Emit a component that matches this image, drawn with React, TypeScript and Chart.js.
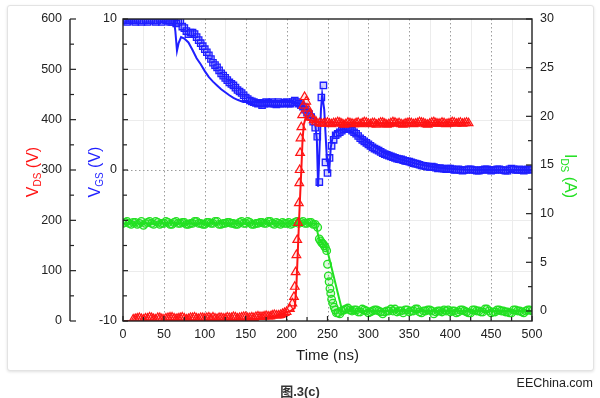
import React, { useEffect, useRef } from "react";
import { Chart, registerables } from "chart.js";
Chart.register(...registerables);

const FONT = "'Liberation Sans', Arial, Helvetica, sans-serif";
const BLUE = "#1f1fff";
const RED = "#ff1414";
const GREEN = "#22e022";
const INK = "#222222";

// ---- tick values ----
const timeTicks = [0, 50, 100, 150, 200, 250, 300, 350, 400, 450, 500];
const timeMinor = [25, 75, 125, 175, 225, 275, 325, 375, 425, 475];
const vdsTicks = [0, 100, 200, 300, 400, 500, 600];
const vdsMinor = [50, 150, 250, 350, 450, 550];
const vgsTicks = [-10, 0, 10];
const idsTicks = [0, 5, 10, 15, 20, 25, 30];
const idsMinor = [2.5, 7.5, 12.5, 17.5, 22.5, 27.5];

// ---- V_GS measured (squares) ----
const tVgsMeas = [
  0, 2.5, 5, 7.5, 10, 12.5, 15, 17.5, 20, 22.5, 25, 27.5, 30, 32.5, 35, 37.5, 40, 42.5, 45, 47.5,
  50, 52.5, 55, 57.5, 60, 62.5, 65, 67.5, 70, 72.5, 75, 77.5, 80, 82.5, 85, 87.5, 90, 92.5, 95, 97.5,
  100, 102.5, 105, 107.5, 110, 112.5, 115, 117.5, 120, 122.5, 125, 127.5, 130, 132.5, 135, 137.5, 140, 142.5, 145, 147.5,
  150, 152.5, 155, 157.5, 160, 162.5, 165, 167.5, 170, 172.5, 175, 177.5, 180, 182.5, 185, 187.5, 190, 192.5, 195, 197.5,
  200, 202.5, 205, 207.5, 210, 212.5, 215, 217.5, 220, 222.5, 225, 227.5, 230, 232.5, 235, 237.5, 240, 242.5, 245, 247.5,
  250, 252.5, 255, 257.5, 260, 262.5, 265, 267.5, 270, 272.5, 275, 277.5, 280, 282.5, 285, 287.5, 290, 292.5, 295, 297.5,
  300, 302.5, 305, 307.5, 310, 312.5, 315, 317.5, 320, 322.5, 325, 327.5, 330, 332.5, 335, 337.5, 340, 342.5, 345, 347.5,
  350, 352.5, 355, 357.5, 360, 362.5, 365, 367.5, 370, 372.5, 375, 377.5, 380, 382.5, 385, 387.5, 390, 392.5, 395, 397.5,
  400, 402.5, 405, 407.5, 410, 412.5, 415, 417.5, 420, 422.5, 425, 427.5, 430, 432.5, 435, 437.5, 440, 442.5, 445, 447.5,
  450, 452.5, 455, 457.5, 460, 462.5, 465, 467.5, 470, 472.5, 475, 477.5, 480, 482.5, 485, 487.5, 490, 492.5, 495, 497.5,
  500,
];
const vgsMeas = [
  9.9, 10, 9.8, 9.9, 10, 9.9, 9.8, 10, 9.9, 9.8, 9.9, 10, 9.8, 9.9, 10, 9.9, 9.8, 9.9, 10, 9.8,
  10, 9.9, 9.9, 9.8, 9.8, 9.9, 9.7, 9.8, 9.9, 9.5, 9.4, 9.2, 9.0, 9.1, 9.1, 9.0, 8.8, 8.6, 8.4, 8.2,
  8.0, 7.8, 7.6, 7.35, 7.1, 6.95, 6.8, 6.6, 6.4, 6.25, 6.1, 5.95, 5.8, 5.7, 5.6, 5.45, 5.3, 5.2, 5.1, 4.95,
  4.8, 4.7, 4.6, 4.55, 4.5, 4.45, 4.4, 4.45, 4.3, 4.4, 4.5, 4.45, 4.4, 4.5, 4.4, 4.35, 4.5, 4.4, 4.4, 4.45,
  4.5, 4.4, 4.4, 4.5, 4.6, 4.5, 4.4, 4.3, 4.2, 4.0, 3.8, 3.7, 3.5, 3.2, 2.8, 2.2, -0.8, 4.8, 5.6, 0.5,
  -0.2, 0.8, 1.6, 2.0, 2.3, 2.4, 2.5, 2.6, 2.7, 2.75, 2.8, 2.7, 2.6, 2.5, 2.4, 2.25, 2.1, 2.0, 1.9, 1.8,
  1.7, 1.6, 1.5, 1.42, 1.35, 1.28, 1.2, 1.12, 1.05, 1.0, 0.95, 0.9, 0.85, 0.8, 0.75, 0.72, 0.7, 0.65, 0.6, 0.58,
  0.55, 0.5, 0.45, 0.42, 0.4, 0.35, 0.3, 0.28, 0.25, 0.22, 0.2, 0.22, 0.2, 0.15, 0.1, 0.12, 0.1, 0.08, 0.05, 0.1,
  0.1, 0.05, 0, 0.02, 0.05, 0, -0.05, 0, 0, 0.05, 0.05, 0, 0, -0.05, -0.05, 0, 0, 0.05, 0.05, 0,
  -0.05, 0, 0, 0.05, 0.05, 0, 0, -0.05, -0.05, 0.05, 0.1, 0.05, 0, 0, 0.05, 0, -0.05, 0, 0.05, 0.05,
  0,
];

// ---- V_GS simulated (line) ----
const tVgsSim = [
  0, 62, 64, 66, 68, 71, 75, 80, 85, 90,
  95, 100, 105, 110, 115, 120, 125, 130, 135, 140,
  147, 210, 220, 228, 234, 237, 238.5, 240, 242, 243.5,
  246, 249, 252, 254, 257, 262, 270, 280, 300, 320,
  340, 360, 380, 400, 420, 500,
];
const vgsSim = [
  10, 10, 9.2, 7.9, 8.4, 8.8, 8.7, 8.45, 7.95, 7.4,
  7.0, 6.55, 6.15, 5.85, 5.6, 5.35, 5.15, 4.95, 4.78, 4.65,
  4.5, 4.5, 4.3, 3.9, 3.6, 2.0, -1.1, 1.0, 4.0, 5.0,
  4.0, 1.0, -0.2, 1.5, 2.4, 2.6, 2.7, 2.5, 1.8, 1.1,
  0.7, 0.4, 0.2, 0.08, 0.02, 0,
];

// ---- V_DS measured (triangles) ----
const tVdsMeas = [
  12.5, 15, 17.5, 20, 22.5, 25, 27.5, 30, 32.5, 35, 37.5, 40, 42.5, 45, 47.5, 50, 52.5, 55, 57.5,
  60, 62.5, 65, 67.5, 70, 72.5, 75, 77.5, 80, 82.5, 85, 87.5, 90, 92.5, 95, 97.5, 100, 102.5, 105, 107.5,
  110, 112.5, 115, 117.5, 120, 122.5, 125, 127.5, 130, 132.5, 135, 137.5, 140, 142.5, 145, 147.5, 150, 152.5, 155, 157.5,
  160, 162.5, 165, 167.5, 170, 172.5, 175, 177.5, 180, 182.5, 185, 187.5, 190, 192.5, 195, 197.5,
  200, 204, 207, 209, 210, 211, 212, 213, 214, 215,
  215.5, 216, 216.5, 217, 218, 219, 220.5, 222, 224, 226,
  228, 230, 233, 236, 240,
  242.5, 245, 247.5, 250, 252.5, 255, 257.5, 260, 262.5, 265, 267.5, 270, 272.5, 275, 277.5, 280, 282.5, 285, 287.5, 290,
  292.5, 295, 297.5, 300, 302.5, 305, 307.5, 310, 312.5, 315, 317.5, 320, 322.5, 325, 327.5, 330, 332.5, 335, 337.5, 340,
  342.5, 345, 347.5, 350, 352.5, 355, 357.5, 360, 362.5, 365, 367.5, 370, 372.5, 375, 377.5, 380, 382.5, 385, 387.5, 390,
  392.5, 395, 397.5, 400, 402.5, 405, 407.5, 410, 412.5, 415, 417.5, 420, 422.5,
];
const vdsMeas = [
  3, 4, 5, 6, 4, 3, 5, 5, 7, 6, 4, 3, 6, 6, 4, 3, 5, 6, 7,
  7, 5, 4, 5, 6, 7, 5, 3, 4, 6, 6, 7, 5, 4, 6, 6, 5, 6, 7, 5,
  7, 5, 4, 6, 6, 5, 5, 7, 6, 6, 8, 7, 5, 6, 7, 8, 8, 6, 6, 7,
  6, 8, 9, 8, 8, 9, 10, 9, 9, 11, 12, 11, 11, 12, 14, 16,
  18, 24, 35, 48, 68, 97, 131, 161, 195, 234,
  274, 300, 334, 363, 385, 409, 428, 445, 436, 422,
  412, 404, 399, 396, 393,
  392, 392, 393, 394, 392, 391, 393, 393, 395, 394, 392, 390, 391, 394, 393, 392, 391, 393, 394, 391,
  393, 395, 394, 392, 391, 393, 393, 390, 392, 394, 394, 392, 390, 391, 393, 395, 394, 392, 393, 391,
  390, 392, 393, 394, 393, 391, 392, 393, 395, 394, 393, 391, 390, 392, 394, 395, 393, 392, 392, 394,
  393, 391, 392, 393, 395, 394, 392, 393, 394, 392, 393, 394, 393,
];

// ---- V_DS simulated (line) ----
const tVdsSim = [0, 100, 150, 170, 185, 195, 205, 210, 212, 214, 216, 218, 219.5, 221, 223, 230, 240, 300, 360, 424];
const vdsSim = [0, 1, 3, 5, 9, 14, 20, 26, 70, 150, 230, 300, 360, 390, 402, 398, 395, 393, 394, 394];

// ---- I_DS measured (circles) ----
const tIdsMeas = [
  0, 2.5, 5, 7.5, 10, 12.5, 15, 17.5, 20, 22.5, 25, 27.5, 30, 32.5, 35, 37.5, 40, 42.5, 45, 47.5,
  50, 52.5, 55, 57.5, 60, 62.5, 65, 67.5, 70, 72.5, 75, 77.5, 80, 82.5, 85, 87.5, 90, 92.5, 95, 97.5,
  100, 102.5, 105, 107.5, 110, 112.5, 115, 117.5, 120, 122.5, 125, 127.5, 130, 132.5, 135, 137.5, 140, 142.5, 145, 147.5,
  150, 152.5, 155, 157.5, 160, 162.5, 165, 167.5, 170, 172.5, 175, 177.5, 180, 182.5, 185, 187.5, 190, 192.5, 195, 197.5,
  200, 202.5, 205, 207.5, 210, 212.5, 215, 217.5, 220, 222.5, 225, 227.5, 230, 232.5, 235,
  238, 240, 241.5, 243, 244.5, 246, 247.5, 249, 250, 251, 252, 253, 254, 255, 256.5, 258, 259.5, 261, 263, 265,
  267.5, 270, 272.5, 275, 277.5,
  280, 282.5, 285, 287.5, 290, 292.5, 295, 297.5, 300, 302.5, 305, 307.5, 310, 312.5, 315, 317.5, 320, 322.5, 325, 327.5,
  330, 332.5, 335, 337.5, 340, 342.5, 345, 347.5, 350, 352.5, 355, 357.5, 360, 362.5, 365, 367.5, 370, 372.5, 375, 377.5,
  380, 382.5, 385, 387.5, 390, 392.5, 395, 397.5, 400, 402.5, 405, 407.5, 410, 412.5, 415, 417.5, 420, 422.5, 425, 427.5,
  430, 432.5, 435, 437.5, 440, 442.5, 445, 447.5, 450, 452.5, 455, 457.5, 460, 462.5, 465, 467.5, 470, 472.5, 475, 477.5,
  480, 482.5, 485, 487.5, 490, 492.5, 495, 497.5, 500,
];
const idsMeas = [
  9.0, 9.1, 9.2, 9.0, 8.9, 9.1, 9.1, 8.9, 9.0, 9.2, 8.8, 9.0, 9.1, 9.2, 9.0, 8.9, 9.2, 9.1, 8.9, 9.0,
  9.0, 9.2, 9.1, 8.9, 8.9, 9.1, 9.2, 9.0, 9.0, 9.1, 9.1, 8.9, 8.9, 9.0, 9.0, 9.2, 9.2, 9.0, 9.0, 8.9,
  8.9, 9.1, 9.1, 9.0, 9.0, 9.2, 9.2, 8.9, 8.9, 9.0, 9.0, 9.1, 9.1, 9.0, 9.0, 8.9, 8.9, 9.1, 9.2, 9.0,
  9.0, 9.2, 9.1, 8.9, 8.9, 9.0, 9.0, 9.1, 9.1, 9.0, 9.0, 9.2, 9.2, 9.0, 8.9, 9.1, 9.0, 8.9, 9.1, 9.0,
  9.0, 9.1, 8.9, 9.0, 9.1, 9.2, 9.0, 9.1, 9.2, 9.0, 9.0, 9.1, 9.1, 8.9, 8.9,
  8.6, 7.4, 7.2, 7.0, 6.9, 6.7, 6.5, 6.2, 4.8, 3.6, 3.0, 2.3, 1.8, 1.2, 0.8, 0.4, 0.1, -0.2, -0.2, -0.3,
  0.0, 0.1, 0.2, 0.3, 0.1,
  0.0, 0.1, 0.1, -0.1, -0.1, 0.2, 0.1, 0.0, -0.2, -0.1, 0.0, 0.1, 0.1, 0.0, -0.1, -0.3, -0.1, 0.0, 0.0, 0.2,
  0.0, 0.2, -0.1, 0.0, 0.0, -0.2, 0.1, 0.1, -0.1, 0.0, 0.0, 0.2, 0.2, -0.1, -0.2, 0.0, 0.0, 0.1, 0.1, 0.0,
  -0.3, -0.1, 0.0, 0.0, -0.1, 0.1, 0.0, 0.1, -0.1, 0.0, 0.0, -0.2, -0.1, 0.1, 0.1, 0.0, -0.1, -0.2, -0.2, 0.1,
  0.1, 0.0, 0.0, -0.1, -0.1, 0.2, 0.2, 0.0, -0.2, -0.1, -0.1, 0.1, 0.1, 0.0, 0.0, -0.1, -0.1, -0.2, -0.2, 0.1,
  0.1, 0.0, 0.0, -0.1, -0.2, 0.0, 0.1, 0.1, 0.0,
];

// ---- I_DS simulated (line) ----
const tIdsSim = [0, 236, 238, 240, 248, 251, 268, 272, 280, 500];
const idsSim = [9.0, 9.0, 8.0, 7.3, 6.6, 5.8, 0.0, -0.1, 0.0, 0.0];

const zip = (xs: number[], ys: number[]) => xs.map((x, i) => ({ x, y: ys[i] }));

function seg(ctx: CanvasRenderingContext2D, x1: number, y1: number, x2: number, y2: number) {
  ctx.beginPath();
  ctx.moveTo(x1, y1);
  ctx.lineTo(x2, y2);
  ctx.stroke();
}

type Part = { text: string; size: number; dy: number };
function drawTitle(ctx: CanvasRenderingContext2D, cx: number, cy: number, rot: number, parts: Part[], color: string) {
  ctx.save();
  ctx.translate(cx, cy);
  ctx.rotate(rot);
  ctx.fillStyle = color;
  ctx.textBaseline = "alphabetic";
  ctx.textAlign = "left";
  let total = 0;
  const widths = parts.map((p) => {
    ctx.font = `${p.size}px ${FONT}`;
    const w = ctx.measureText(p.text).width;
    total += w;
    return w;
  });
  let x0 = -total / 2;
  parts.forEach((p, i) => {
    ctx.font = `${p.size}px ${FONT}`;
    ctx.fillText(p.text, x0, p.dy);
    x0 += widths[i];
  });
  ctx.restore();
}

const decor = {
  id: "decor",
  beforeDatasetsDraw(chart: any) {
    const { ctx, chartArea: a, scales } = chart;
    const x = scales.x;
    const yv = scales.yVds;
    const yg = scales.yVgs;
    ctx.save();
    ctx.lineWidth = 1;
    ctx.strokeStyle = "#ececec";
    for (const t of timeMinor) {
      const px = Math.round(x.getPixelForValue(t)) + 0.5;
      seg(ctx, px, a.top, px, a.bottom);
    }
    for (const v of vdsTicks) {
      if (v === 0 || v === 300 || v === 600) continue;
      const py = Math.round(yv.getPixelForValue(v)) + 0.5;
      seg(ctx, a.left, py, a.right, py);
    }
    ctx.strokeStyle = "#9c9c9c";
    ctx.setLineDash([1.5, 2.5]);
    for (const t of timeTicks) {
      if (t === 0 || t === 500) continue;
      const px = Math.round(x.getPixelForValue(t)) + 0.5;
      seg(ctx, px, a.top, px, a.bottom);
    }
    const p0 = Math.round(yg.getPixelForValue(0)) + 0.5;
    seg(ctx, a.left, p0, a.right, p0);
    ctx.restore();
  },
  afterDatasetsDraw(chart: any) {
    const { ctx, chartArea: a, scales } = chart;
    const x = scales.x;
    const yv = scales.yVds;
    const yi = scales.yIds;
    ctx.save();
    ctx.strokeStyle = INK;
    ctx.lineWidth = 1.4;
    ctx.strokeRect(a.left, a.top, a.right - a.left, a.bottom - a.top);
    const ax = yv.right;
    seg(ctx, ax, a.top, ax, a.bottom);
    ctx.lineWidth = 1.2;
    for (const v of vdsTicks) {
      const py = yv.getPixelForValue(v);
      seg(ctx, ax, py, ax + 6, py);
      seg(ctx, a.left, py, a.left + 5, py);
    }
    for (const v of vdsMinor) {
      const py = yv.getPixelForValue(v);
      seg(ctx, ax, py, ax + 4, py);
      seg(ctx, a.left, py, a.left + 4, py);
    }
    for (const v of idsTicks) {
      const py = yi.getPixelForValue(v);
      seg(ctx, a.right - 6, py, a.right, py);
    }
    for (const v of idsMinor) {
      const py = yi.getPixelForValue(v);
      seg(ctx, a.right - 4, py, a.right, py);
    }
    for (const t of timeTicks) {
      const px = x.getPixelForValue(t);
      seg(ctx, px, a.bottom, px, a.bottom - 5);
    }
    for (const t of timeMinor) {
      const px = x.getPixelForValue(t);
      seg(ctx, px, a.bottom, px, a.bottom - 4);
    }
    ctx.restore();

    const midY = (a.top + a.bottom) / 2;
    drawTitle(ctx, yv.left + 12, midY + 2, -Math.PI / 2, [
      { text: "V", size: 16, dy: 5.5 },
      { text: "DS", size: 10, dy: 9 },
      { text: " (V)", size: 16, dy: 5.5 },
    ], RED);
    drawTitle(ctx, scales.yVgs.left + 24, midY + 2, -Math.PI / 2, [
      { text: "V", size: 16, dy: 5.5 },
      { text: "GS", size: 10, dy: 9 },
      { text: " (V)", size: 16, dy: 5.5 },
    ], BLUE);
    drawTitle(ctx, yi.left + 38, midY + 6, Math.PI / 2, [
      { text: "I", size: 16, dy: 5.5 },
      { text: "DS", size: 10, dy: 9 },
      { text: " (A)", size: 16, dy: 5.5 },
    ], GREEN);
    ctx.save();
    ctx.fillStyle = INK;
    ctx.font = `15px ${FONT}`;
    ctx.textAlign = "center";
    ctx.textBaseline = "middle";
    ctx.fillText("Time (ns)", (a.left + a.right) / 2, a.bottom + 35);
    ctx.restore();
  },
};

const fixTicks = (vals: number[]) => (scale: any) => {
  scale.ticks = vals.map((v) => ({ value: v }));
};

export default function App() {
  const ref = useRef<HTMLCanvasElement>(null);
  useEffect(() => {
    Chart.defaults.font.family = FONT;
    const tickFont = { size: 12.5, family: FONT };
    const noGrid = { display: false, drawTicks: false };
    const chart = new Chart(ref.current as HTMLCanvasElement, {
      type: "scatter",
      data: {
        datasets: [
          {
            label: "VDS meas",
            data: zip(tVdsMeas, vdsMeas),
            yAxisID: "yVds",
            pointStyle: "triangle",
            pointRadius: 5,
            borderColor: RED,
            backgroundColor: "rgba(255,20,20,0.1)",
            borderWidth: 1.2,
            showLine: false,
            order: 0,
          },
          {
            label: "VDS sim",
            data: zip(tVdsSim, vdsSim),
            yAxisID: "yVds",
            showLine: true,
            borderColor: RED,
            borderWidth: 2,
            pointRadius: 0,
            order: 1,
          },
          {
            label: "VGS sim",
            data: zip(tVgsSim, vgsSim),
            yAxisID: "yVgs",
            showLine: true,
            borderColor: BLUE,
            borderWidth: 2,
            pointRadius: 0,
            order: 2,
          },
          {
            label: "VGS meas",
            data: zip(tVgsMeas, vgsMeas),
            yAxisID: "yVgs",
            pointStyle: "rect",
            pointRadius: 4.5,
            borderColor: BLUE,
            backgroundColor: "rgba(31,31,255,0.2)",
            borderWidth: 1.3,
            showLine: false,
            order: 3,
          },
          {
            label: "IDS sim",
            data: zip(tIdsSim, idsSim),
            yAxisID: "yIds",
            showLine: true,
            borderColor: GREEN,
            borderWidth: 2,
            pointRadius: 0,
            order: 4,
          },
          {
            label: "IDS meas",
            data: zip(tIdsMeas, idsMeas),
            yAxisID: "yIds",
            pointStyle: "circle",
            pointRadius: 3.8,
            borderColor: GREEN,
            backgroundColor: "rgba(34,224,34,0.15)",
            borderWidth: 1.3,
            showLine: false,
            order: 5,
          },
        ],
      },
      options: {
        responsive: false,
        maintainAspectRatio: false,
        animation: false,
        events: [],
        layout: { padding: { left: 20, right: 23, top: 19, bottom: 32 } },
        plugins: { legend: { display: false }, tooltip: { enabled: false } },
        scales: {
          x: {
            type: "linear",
            position: "bottom",
            min: 0,
            max: 500,
            afterBuildTicks: fixTicks(timeTicks),
            afterFit: (s: any) => { s.height = 45; },
            ticks: { font: tickFont, color: INK, padding: 6, maxRotation: 0 },
            grid: noGrid,
            border: { display: false },
          },
          yVds: {
            type: "linear",
            position: "left",
            weight: 2,
            min: 0,
            max: 600,
            afterBuildTicks: fixTicks(vdsTicks),
            afterFit: (s: any) => { s.width = 50; },
            ticks: { font: tickFont, color: INK, padding: 8 },
            grid: noGrid,
            border: { display: false },
          },
          yVgs: {
            type: "linear",
            position: "left",
            weight: 1,
            min: -10,
            max: 10,
            afterBuildTicks: fixTicks(vgsTicks),
            afterFit: (s: any) => { s.width = 53; },
            ticks: { font: tickFont, color: INK, padding: 6 },
            grid: noGrid,
            border: { display: false },
          },
          yIds: {
            type: "linear",
            position: "right",
            min: -1.03,
            max: 30,
            afterBuildTicks: fixTicks(idsTicks),
            afterFit: (s: any) => { s.width = 45; },
            ticks: { font: tickFont, color: INK, padding: 8 },
            grid: noGrid,
            border: { display: false },
          },
        },
      },
      plugins: [decor],
    } as any);
    return () => chart.destroy();
  }, []);

  return (
    <div style={{ position: "absolute", left: 0, top: 0, width: 600, height: 398, background: "#ffffff", overflow: "hidden" }}>
      <div
        style={{
          position: "absolute",
          left: 7,
          top: 5,
          width: 585,
          height: 364,
          border: "1px solid #e3e3e3",
          borderRadius: 3,
          boxShadow: "0 1px 3px rgba(0,0,0,0.12)",
          background: "#ffffff",
        }}
      />
      <canvas ref={ref} width={600} height={398} style={{ position: "absolute", left: 0, top: 0, width: 600, height: 398 }} />
      <div
        style={{
          position: "absolute",
          right: 7,
          top: 375,
          fontFamily: "'Liberation Sans', 'Noto Sans CJK SC', sans-serif",
          fontSize: 12.5,
          lineHeight: "16px",
          color: INK,
        }}
      >
        EEChina.com
      </div>
      <div
        style={{
          position: "absolute",
          left: 0,
          width: 600,
          top: 384,
          textAlign: "center",
          fontFamily: "'Liberation Sans', 'Noto Sans CJK SC', sans-serif",
          fontSize: 13,
          fontWeight: "bold",
          lineHeight: "16px",
          color: "#333",
        }}
      >
        图.3(c)
      </div>
    </div>
  );
}
